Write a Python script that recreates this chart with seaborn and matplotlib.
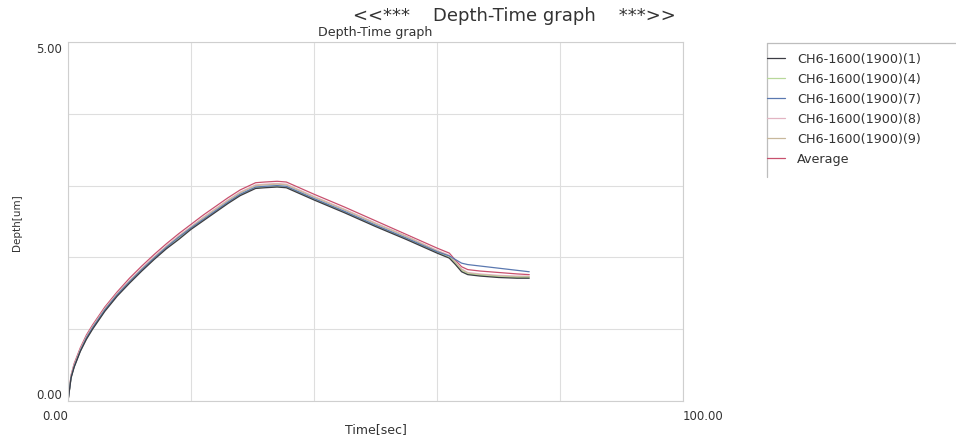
import matplotlib
matplotlib.use("Agg")
import matplotlib.pyplot as plt
from matplotlib.lines import Line2D
import pandas as pd
import seaborn as sns

# Time axis shared by every measurement (seconds)
time_sec = [0, 0.5, 1, 2, 3, 4, 6, 8, 10, 12, 14, 16, 18, 20, 22, 24, 26, 28,
            30.5, 32, 34, 35.5, 40, 45, 50, 55, 60, 62, 63, 64, 65, 67, 70, 73, 75]

# Indentation depth for each run (um)
depth_1 = [0, 0.32, 0.47, 0.69, 0.86, 1.00, 1.25, 1.46, 1.64, 1.81, 1.97, 2.12, 2.25, 2.39, 2.51, 2.63, 2.75, 2.86,
           2.96, 2.97, 2.98, 2.97, 2.80, 2.62, 2.43, 2.25, 2.06, 1.99, 1.90, 1.80, 1.76, 1.74, 1.72, 1.71, 1.71]
depth_4 = [0, 0.33, 0.48, 0.70, 0.87, 1.01, 1.26, 1.47, 1.65, 1.82, 1.98, 2.13, 2.26, 2.40, 2.52, 2.64, 2.76, 2.87,
           2.97, 2.98, 2.99, 2.98, 2.81, 2.63, 2.44, 2.26, 2.07, 2.00, 1.91, 1.81, 1.77, 1.75, 1.73, 1.72, 1.72]
depth_7 = [0, 0.33, 0.48, 0.70, 0.88, 1.02, 1.27, 1.48, 1.66, 1.83, 1.99, 2.14, 2.28, 2.41, 2.53, 2.65, 2.77, 2.88,
           2.98, 2.99, 3.00, 2.99, 2.82, 2.64, 2.45, 2.27, 2.08, 2.02, 1.97, 1.92, 1.90, 1.88, 1.85, 1.82, 1.80]
depth_8 = [0, 0.35, 0.50, 0.72, 0.90, 1.04, 1.29, 1.50, 1.68, 1.85, 2.01, 2.16, 2.30, 2.43, 2.56, 2.68, 2.80, 2.91,
           3.01, 3.02, 3.03, 3.02, 2.85, 2.67, 2.48, 2.30, 2.10, 2.03, 1.94, 1.84, 1.79, 1.77, 1.75, 1.74, 1.74]
depth_9 = [0, 0.34, 0.49, 0.71, 0.89, 1.03, 1.28, 1.49, 1.67, 1.84, 2.00, 2.15, 2.29, 2.42, 2.55, 2.67, 2.79, 2.90,
           3.00, 3.01, 3.02, 3.01, 2.84, 2.66, 2.47, 2.29, 2.09, 2.02, 1.93, 1.83, 1.78, 1.76, 1.74, 1.73, 1.73]
depth_avg = [0, 0.36, 0.52, 0.74, 0.92, 1.06, 1.31, 1.52, 1.71, 1.88, 2.04, 2.19, 2.33, 2.46, 2.59, 2.71, 2.83, 2.94,
             3.04, 3.05, 3.06, 3.05, 2.88, 2.70, 2.51, 2.32, 2.13, 2.06, 1.96, 1.87, 1.83, 1.81, 1.79, 1.77, 1.76]

series_names = ["CH6-1600(1900)(1)", "CH6-1600(1900)(4)", "CH6-1600(1900)(7)",
                "CH6-1600(1900)(8)", "CH6-1600(1900)(9)", "Average"]
series_values = [depth_1, depth_4, depth_7, depth_8, depth_9, depth_avg]
series_colors = ["#3c3c44", "#b8d89a", "#5a78b0", "#e2b4c2", "#c8b89c", "#c8506e"]

# x ticks / y ticks
x_ticks = [0, 20, 40, 60, 80, 100]
y_ticks = [0, 1, 2, 3, 4, 5]
x_ticklabels = ["0.00", "", "", "", "", "100.00"]
y_ticklabels = ["0.00", "", "", "", "", "5.00"]

rows = []
for name, vals in zip(series_names, series_values):
    for t, d in zip(time_sec, vals):
        rows.append({"Time": t, "Depth": d, "Series": name})
df = pd.DataFrame(rows)

sns.set_theme(style="white")
plt.rcParams["font.family"] = ["DejaVu Sans"]
text_color = "#333333"

fig = plt.figure(figsize=(9.56, 4.39), dpi=100)
ax = fig.add_axes([68 / 956, 1 - 402 / 439, (683 - 68) / 956, (402 - 43) / 439])

# draw the average first so the individual runs sit over it
draw_order = ["Average", "CH6-1600(1900)(8)", "CH6-1600(1900)(9)", "CH6-1600(1900)(4)",
              "CH6-1600(1900)(7)", "CH6-1600(1900)(1)"]
palette = dict(zip(series_names, series_colors))
sns.lineplot(data=df, x="Time", y="Depth", hue="Series", hue_order=draw_order,
             palette=palette, linewidth=0.9, legend=False, ax=ax, sort=False,
             estimator=None)

ax.set_xlim(0, 100)
ax.set_ylim(0, 5)
ax.set_xticks(x_ticks)
ax.set_yticks(y_ticks)
ax.set_xticklabels(x_ticklabels)
ax.set_yticklabels(y_ticklabels)
ax.grid(True, color="#dedede", linewidth=0.8)
for sp in ax.spines.values():
    sp.set_color("#cfcfcf")
    sp.set_linewidth(0.8)
ax.tick_params(axis="both", length=0, labelsize=8.5, colors=text_color)
ax.tick_params(axis="x", pad=6)
ax.tick_params(axis="y", pad=4)
xl = ax.get_xticklabels()
xl[0].set_ha("right")
xl[-1].set_ha("left")
yl = ax.get_yticklabels()
yl[0].set_va("bottom")
yl[-1].set_va("top")

ax.set_xlabel("Time[sec]", fontsize=9, color=text_color, va="center")
ax.xaxis.set_label_coords(0.5, -0.078)
ax.set_ylabel("Depth[um]", fontsize=7.5, color=text_color, va="center")
ax.yaxis.set_label_coords(-0.083, 0.5)
ax.set_title("Depth-Time graph", fontsize=9.1, color=text_color, pad=5)

fig.text(514 / 956, 1 - 16 / 439, "<<***    Depth-Time graph    ***>>",
         ha="center", va="center", fontsize=13, color=text_color)

handles = [Line2D([0], [0], color=c, linewidth=0.9) for c in series_colors]
leg = fig.legend(handles, series_names, loc="upper left",
                 bbox_to_anchor=(767 / 956, 1 - 53 / 439), bbox_transform=fig.transFigure,
                 frameon=False, fontsize=9.2, handlelength=1.4, handletextpad=0.95,
                 labelspacing=0.55, borderaxespad=0, borderpad=0)
for txt in leg.get_texts():
    txt.set_color(text_color)

# open legend frame: top edge and left edge only
fig.add_artist(Line2D([767 / 956, 1.0], [1 - 44 / 439, 1 - 44 / 439],
                      transform=fig.transFigure, color="#bdbdbd", linewidth=0.9))
fig.add_artist(Line2D([767 / 956, 767 / 956], [1 - 44 / 439, 1 - 178 / 439],
                      transform=fig.transFigure, color="#bdbdbd", linewidth=0.9))

fig.savefig("out.png", dpi=100)
